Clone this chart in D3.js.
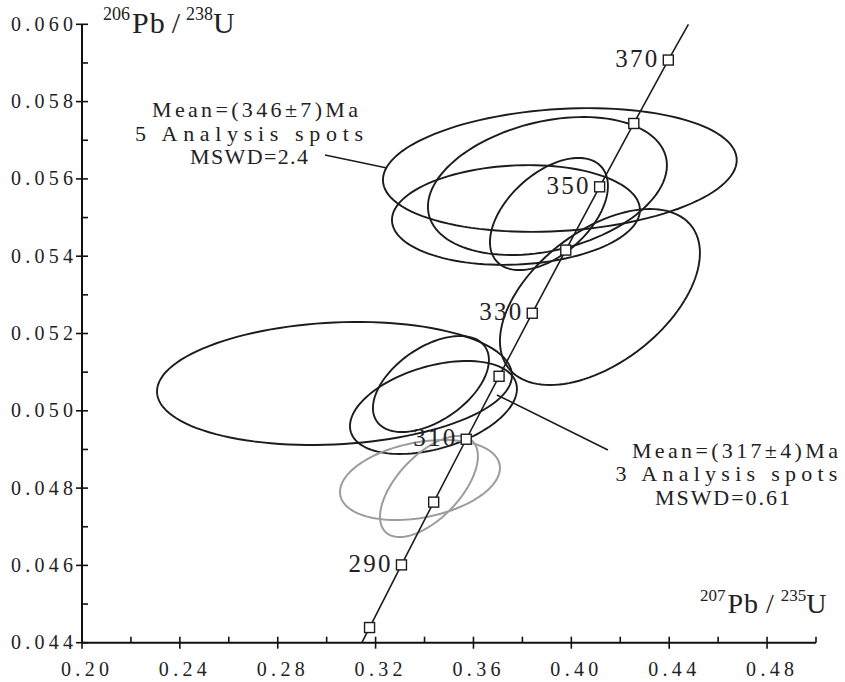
<!DOCTYPE html>
<html>
<head>
<meta charset="utf-8">
<script src="https://cdn.jsdelivr.net/npm/d3@7"></script>
<style>
  body { margin: 0; background: #fff; }
  text { font-family: "Liberation Serif", "Times New Roman", serif; fill: #222; }
</style>
</head>
<body>
<div id="chart"></div>
<script>
// concordia points (age in Ma, 207Pb/235U, 206Pb/238U)
const concAges = [277.6, 280, 290, 300, 310, 320, 330, 340, 350, 360, 370, 375.6];
const concX = [0.31438, 0.31753, 0.33057, 0.34374, 0.35704, 0.37047, 0.38403, 0.39773, 0.41156, 0.42553, 0.43964, 0.44785];
const concY = [0.04400, 0.044392, 0.046013, 0.047637, 0.049264, 0.050893, 0.052524, 0.054158, 0.055795, 0.057434, 0.059075, 0.06000];
const markedAges = [280, 290, 300, 310, 320, 330, 340, 350, 360, 370];
const labelledAges = [290, 310, 330, 350, 370];

// analysis spots: ratio, error (ellipse half extent), correlation, group
const spotX    = [0.3953, 0.39023, 0.37736, 0.39085, 0.41169, 0.30319, 0.34262, 0.34365, 0.33813, 0.34181];
const spotXerr = [0.0723, 0.04884, 0.05067, 0.02411, 0.04087, 0.07254, 0.0237, 0.03412, 0.03269, 0.0200];
const spotY    = [0.05623, 0.055816, 0.055066, 0.055092, 0.052944, 0.050707, 0.050693, 0.050086, 0.048210, 0.048041];
const spotYerr = [0.00160, 0.001785, 0.00129, 0.00145, 0.002277, 0.001591, 0.001242, 0.001203, 0.001035, 0.001307];
const spotRho  = [0.16, 0.3, 0.1, 0.5, 0.5, 0.13, 0.5, 0.4, 0.3, 0.6];
const spotGroup = ['a', 'a', 'a', 'a', 'a', 'b', 'b', 'b', 'x', 'x'];

// tick labels
const xTicks = [0.20, 0.24, 0.28, 0.32, 0.36, 0.40, 0.44, 0.48];
const xTickLabels = ['0.20', '0.24', '0.28', '0.32', '0.36', '0.40', '0.44', '0.48'];
const yTicks = [0.044, 0.046, 0.048, 0.050, 0.052, 0.054, 0.056, 0.058, 0.060];
const yTickLabels = ['0.044', '0.046', '0.048', '0.050', '0.052', '0.054', '0.056', '0.058', '0.060'];

// annotations
const noteLines = [
  ['Mean=(346\u00b17)Ma', '5 Analysis spots', 'MSWD=2.4'],
  ['Mean=(317\u00b14)Ma', '3 Analysis spots', 'MSWD=0.61']
];
const noteX = [0.26825, 0.46339];
const noteY = [0.057599, 0.04878];
const leaderX1 = [0.29931, 0.36960], leaderY1 = [0.056618, 0.050409];
const leaderX2 = [0.32464, 0.41496], leaderY2 = [0.056282, 0.048986];

const W = 845, H = 682;
const margin = { top: 24.3, right: 29, bottom: 39.3, left: 82 };
const width = W - margin.left - margin.right;
const height = H - margin.top - margin.bottom;

const svg = d3.select('#chart').append('svg')
  .attr('width', W)
  .attr('height', H);
const g = svg.append('g').attr('transform', `translate(${margin.left},${margin.top})`);

const x = d3.scaleLinear().domain([0.20, 0.50]).range([0, width]);
const y = d3.scaleLinear().domain([0.044, 0.060]).range([height, 0]);

// error ellipses
function ellipsePts(i) {
  const pts = [];
  const r = spotRho[i], s = Math.sqrt(1 - r * r);
  for (let k = 0; k < 120; k++) {
    const t = k / 120 * Math.PI * 2;
    const dx = spotXerr[i] * Math.cos(t);
    const dy = spotYerr[i] * (r * Math.cos(t) + s * Math.sin(t));
    pts.push([x(spotX[i] + dx), y(spotY[i] + dy)]);
  }
  return pts;
}
const closed = d3.line().curve(d3.curveLinearClosed);
g.selectAll('.ell')
  .data(d3.range(spotX.length))
  .enter()
  .append('path')
  .attr('d', i => closed(ellipsePts(i)))
  .attr('fill', 'none')
  .attr('stroke', i => spotGroup[i] === 'x' ? '#9c9c9c' : '#1c1c1c')
  .attr('stroke-width', i => spotGroup[i] === 'x' ? 2 : 1.9);

// concordia
const conc = concAges.map((a, i) => ({ age: a, x: concX[i], y: concY[i] }));
g.append('path')
  .datum(conc)
  .attr('fill', 'none')
  .attr('stroke', '#1c1c1c')
  .attr('stroke-width', 1.6)
  .attr('d', d3.line().x(d => x(d.x)).y(d => y(d.y)).curve(d3.curveCatmullRom));

const marks = conc.filter(d => markedAges.includes(d.age));
g.selectAll('.sq')
  .data(marks)
  .enter()
  .append('rect')
  .attr('x', d => x(d.x) - 5)
  .attr('y', d => y(d.y) - 5)
  .attr('width', 10)
  .attr('height', 10)
  .attr('fill', '#fff')
  .attr('stroke', '#1c1c1c')
  .attr('stroke-width', 1.4);

g.selectAll('.age')
  .data(marks.filter(d => labelledAges.includes(d.age)))
  .enter()
  .append('text')
  .attr('x', d => x(d.x) - 11)
  .attr('y', d => y(d.y) + 7)
  .attr('text-anchor', 'end')
  .attr('font-size', 25)
  .attr('textLength', 42)
  .attr('lengthAdjust', 'spacing')
  .text(d => d.age);

// axes
const xAxis = g.append('g').attr('transform', `translate(0,${height})`);
xAxis.append('line').attr('x1', 0).attr('x2', width).attr('stroke', '#111').attr('stroke-width', 2);
xAxis.selectAll('.minor')
  .data(x.ticks(15))
  .enter()
  .append('line')
  .attr('x1', d => x(d)).attr('x2', d => x(d))
  .attr('y1', -6)
  .attr('y2', d => xTicks.some(t => Math.abs(t - d) < 1e-9) ? 6 : 0)
  .attr('stroke', '#111').attr('stroke-width', 1.6);
xAxis.selectAll('.lbl')
  .data(xTicks)
  .enter()
  .append('text')
  .attr('x', d => x(d) + 3)
  .attr('y', 33.5)
  .attr('text-anchor', 'middle')
  .attr('font-size', 20)
  .attr('textLength', 48)
  .attr('lengthAdjust', 'spacing')
  .text((d, i) => xTickLabels[i]);

const yAxis = g.append('g');
yAxis.append('line').attr('y1', 0).attr('y2', height).attr('stroke', '#111').attr('stroke-width', 2);
yAxis.selectAll('.minor')
  .data(y.ticks(16))
  .enter()
  .append('line')
  .attr('y1', d => y(d)).attr('y2', d => y(d))
  .attr('x1', d => yTicks.some(t => Math.abs(t - d) < 1e-9) ? -6 : 0)
  .attr('x2', 6)
  .attr('stroke', '#111').attr('stroke-width', 1.6);
yAxis.selectAll('.lbl')
  .data(yTicks)
  .enter()
  .append('text')
  .attr('x', -9)
  .attr('y', d => y(d) + 6.5)
  .attr('text-anchor', 'end')
  .attr('font-size', 20)
  .attr('textLength', 62)
  .attr('lengthAdjust', 'spacing')
  .text((d, i) => yTickLabels[i]);

// axis titles
function ratioTitle(sel, m1, m2, big, small, gap) {
  sel.append('tspan').attr('font-size', small).attr('dy', -big * 0.42).text(m1);
  sel.append('tspan').attr('font-size', big).attr('dy', big * 0.42).attr('dx', 2)
    .attr('letter-spacing', 1).text('Pb');
  sel.append('tspan').attr('font-size', big).attr('dx', gap).text('/');
  sel.append('tspan').attr('font-size', small).attr('dy', -big * 0.42).attr('dx', gap).text(m2);
  sel.append('tspan').attr('font-size', big).attr('dy', big * 0.42).text('U');
}
svg.append('text').attr('x', 103).attr('y', 33)
  .call(ratioTitle, '206', '238', 30, 18, 6);
svg.append('text').attr('x', 700).attr('y', 613)
  .call(ratioTitle, '207', '235', 28, 17, 7);

// annotations
const noteW = [[206, 228, 118], [206, 222, 135]];
const noteDx = [[6, 0, 0], [8.5, 0, -4]];
noteLines.forEach((lines, n) => {
  lines.forEach((s, k) => {
    g.append('text')
      .attr('x', x(noteX[n]) + noteDx[n][k])
      .attr('y', y(noteY[n]) + k * 23.5)
      .attr('text-anchor', 'middle')
      .attr('font-size', 22)
      .attr('textLength', noteW[n][k])
      .attr('lengthAdjust', 'spacing')
      .text(s);
  });
  g.append('line')
    .attr('x1', x(leaderX1[n])).attr('y1', y(leaderY1[n]))
    .attr('x2', x(leaderX2[n])).attr('y2', y(leaderY2[n]))
    .attr('stroke', '#1c1c1c').attr('stroke-width', 1.6);
});
</script>
</body>
</html>
